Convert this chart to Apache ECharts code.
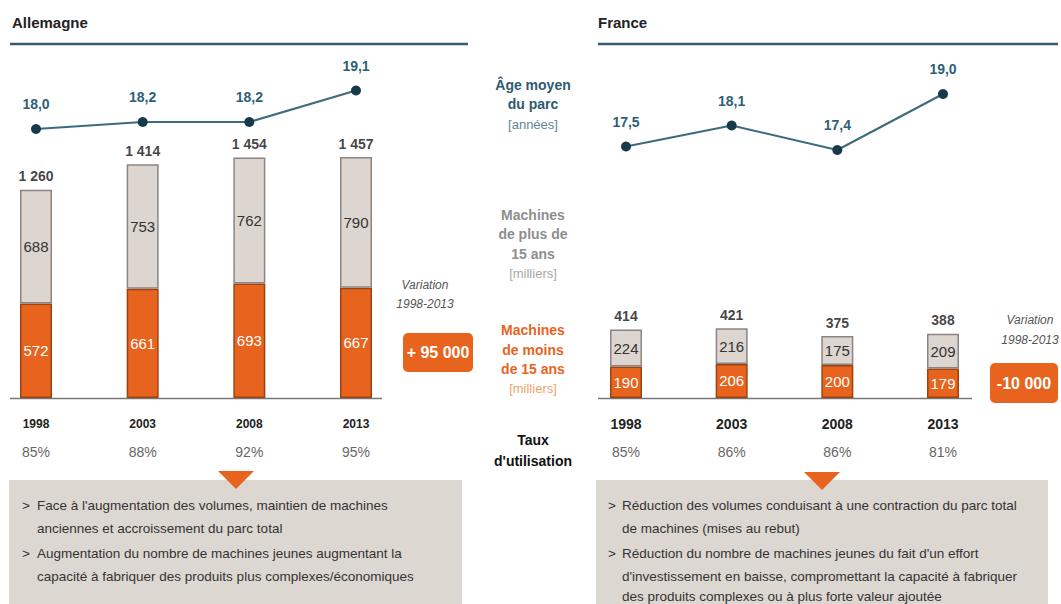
<!DOCTYPE html>
<html>
<head>
<meta charset="utf-8">
<script src="https://cdn.jsdelivr.net/npm/echarts@6/dist/echarts.min.js"></script>
<style>
  html, body { margin: 0; padding: 0; background: #fff; }
  #chart { width: 1061px; height: 604px; }
</style>
</head>
<body>
<div id="chart"></div>
<script>
(function() {
  var years = ['1998', '2003', '2008', '2013'];
  var deAge = [18.0, 18.2, 18.2, 19.1];
  var frAge = [17.5, 18.1, 17.4, 19.0];
  var deOld = [688, 753, 762, 790];
  var deYoung = [572, 661, 693, 667];
  var deTotal = [1260, 1414, 1454, 1457];
  var frOld = [224, 216, 175, 209];
  var frYoung = [190, 206, 200, 179];
  var frTotal = [414, 421, 375, 388];
  var deUtil = [85, 88, 92, 95];
  var frUtil = [85, 86, 86, 81];
  var variations = ['+ 95 000', '-10 000'];

  var font = '"Liberation Sans", Arial, sans-serif';
  var teal = '#2f5e73';
  var orange = '#e8641e';
  var greyFill = '#ddd6d0';
  var boxFill = '#ddd7d2';

  function fmt(v) { return String(v).replace(/\B(?=(\d{3})+(?!\d))/g, ' '); }

  var chart = echarts.init(document.getElementById('chart'), null, { renderer: 'svg' });

  var grids = [], xAxes = [], yAxes = [], series = [];

  function addPanel(left, width, age, old, young, total, util, yearSize) {
    var gLine = grids.length;
    grids.push({ left: left, width: width, top: 59, height: 105 });
    grids.push({ left: left, width: width, top: 150, height: 248 });
    xAxes.push({
      type: 'category', gridIndex: gLine, data: years, boundaryGap: false,
      axisLine: { show: false }, axisTick: { show: false }, axisLabel: { show: false }
    });
    xAxes.push({
      type: 'category', gridIndex: gLine + 1, data: years, boundaryGap: false,
      axisLine: { show: false }, axisTick: { show: false },
      axisLabel: {
        margin: 12,
        formatter: function(v, i) { return '{y|' + v + '}\n{p|' + util[i] + '%}'; },
        rich: {
          y: { fontFamily: font, fontSize: yearSize, fontWeight: 'bold', color: '#222', lineHeight: 28 },
          p: { fontFamily: font, fontSize: 14, color: '#666', lineHeight: 28 }
        }
      }
    });
    yAxes.push({ type: 'value', gridIndex: gLine, min: 17, max: 20, show: false });
    yAxes.push({ type: 'value', gridIndex: gLine + 1, min: 0, max: 1500, show: false });

    series.push({
      type: 'line', xAxisIndex: gLine, yAxisIndex: gLine, data: age,
      lineStyle: { color: '#3d6b7d', width: 2 },
      symbol: 'circle', symbolSize: 10,
      itemStyle: { color: '#17394c' },
      label: {
        show: true, position: 'top', distance: 13,
        fontFamily: font, fontSize: 14, fontWeight: 'bold', color: '#2e5f78',
        formatter: function(p) { return p.value.toFixed(1).replace('.', ','); }
      }
    });
    series.push({
      type: 'bar', xAxisIndex: gLine + 1, yAxisIndex: gLine + 1, stack: 'm' + gLine,
      data: young, barWidth: 32,
      itemStyle: { color: orange, borderColor: '#9c4312', borderWidth: 1.5 },
      label: { show: true, position: 'inside', color: '#fff', fontFamily: font, fontSize: 15 }
    });
    series.push({
      type: 'bar', xAxisIndex: gLine + 1, yAxisIndex: gLine + 1, stack: 'm' + gLine,
      data: old, barWidth: 32,
      itemStyle: { color: greyFill, borderColor: '#8a8582', borderWidth: 1.5 },
      label: { show: true, position: 'inside', color: '#333', fontFamily: font, fontSize: 15 }
    });
    series.push({
      type: 'scatter', xAxisIndex: gLine + 1, yAxisIndex: gLine + 1,
      data: total, symbolSize: 1, itemStyle: { color: 'rgba(0,0,0,0)' },
      label: {
        show: true, position: 'top', distance: 6, color: '#111',
        fontFamily: font, fontSize: 14, fontWeight: 'bold',
        formatter: function(p) { return fmt(p.value); }
      }
    });
  }

  addPanel(36, 320, deAge, deOld, deYoung, deTotal, deUtil, 12);
  addPanel(626, 317, frAge, frOld, frYoung, frTotal, frUtil, 14);

  function txt(t, x, y, size, color, weight, align, style) {
    return {
      type: 'text', silent: true,
      style: {
        text: t, x: x, y: y, fill: color,
        font: (style || 'normal') + ' ' + (weight || 'normal') + ' ' + size + 'px ' + font,
        textAlign: align || 'left', verticalAlign: 'middle'
      }
    };
  }

  var g = [];
  // headers
  g.push(txt('Allemagne', 12, 22, 15, '#222', 'bold'));
  g.push(txt('France', 598, 22, 15, '#222', 'bold'));
  g.push({ type: 'line', shape: { x1: 10, y1: 44, x2: 468, y2: 44 }, style: { stroke: teal, lineWidth: 2.5 } });
  g.push({ type: 'line', shape: { x1: 598, y1: 44, x2: 1058, y2: 44 }, style: { stroke: teal, lineWidth: 2.5 } });
  // baselines
  g.push({ type: 'line', shape: { x1: 10, y1: 398.5, x2: 382, y2: 398.5 }, style: { stroke: '#777', lineWidth: 1.5 } });
  g.push({ type: 'line', shape: { x1: 598, y1: 398.5, x2: 972, y2: 398.5 }, style: { stroke: '#777', lineWidth: 1.5 } });

  // middle legend column
  var cx = 533;
  g.push(txt('Âge moyen', cx, 85, 14, '#2e5a70', 'bold', 'center'));
  g.push(txt('du parc', cx, 104, 14, '#2e5a70', 'bold', 'center'));
  g.push(txt('[années]', cx, 124, 13, '#5f8597', 'normal', 'center'));
  g.push(txt('Machines', cx, 215, 14, '#8e8e8e', 'bold', 'center'));
  g.push(txt('de plus de', cx, 234, 14, '#8e8e8e', 'bold', 'center'));
  g.push(txt('15 ans', cx, 254, 14, '#8e8e8e', 'bold', 'center'));
  g.push(txt('[milliers]', cx, 273, 13, '#a8a8a8', 'normal', 'center'));
  g.push(txt('Machines', cx, 330, 14, orange, 'bold', 'center'));
  g.push(txt('de moins', cx, 350, 14, orange, 'bold', 'center'));
  g.push(txt('de 15 ans', cx, 369, 14, orange, 'bold', 'center'));
  g.push(txt('[milliers]', cx, 388, 13, '#f0a070', 'normal', 'center'));
  g.push(txt('Taux', cx, 440, 14, '#111', 'bold', 'center'));
  g.push(txt("d'utilisation", cx, 461, 14, '#111', 'bold', 'center'));

  // variation badges
  g.push(txt('Variation', 425, 285, 12, '#555', 'normal', 'center', 'italic'));
  g.push(txt('1998-2013', 425, 304, 12, '#555', 'normal', 'center', 'italic'));
  g.push({ type: 'rect', shape: { x: 403, y: 333, width: 70, height: 39, r: 5 }, style: { fill: orange } });
  g.push(txt(variations[0], 438, 352.5, 16, '#fff', 'bold', 'center'));
  g.push(txt('Variation', 1030, 320, 12, '#555', 'normal', 'center', 'italic'));
  g.push(txt('1998-2013', 1030, 340, 12, '#555', 'normal', 'center', 'italic'));
  g.push({ type: 'rect', shape: { x: 990, y: 363, width: 68, height: 40, r: 5 }, style: { fill: orange } });
  g.push(txt(variations[1], 1024, 383, 16, '#fff', 'bold', 'center'));

  // comment boxes
  g.push({ type: 'rect', shape: { x: 9, y: 480, width: 453, height: 130 }, style: { fill: boxFill } });
  g.push({ type: 'rect', shape: { x: 596, y: 480, width: 452, height: 130 }, style: { fill: boxFill } });
  g.push({ type: 'polygon', shape: { points: [[218, 471], [254, 471], [236, 489]] }, style: { fill: orange } });
  g.push({ type: 'polygon', shape: { points: [[804, 472], [840, 472], [822, 490]] }, style: { fill: orange } });

  var deLines = [
    ['>', 'Face à l\'augmentation des volumes, maintien de machines'],
    ['', 'anciennes et accroissement du parc total'],
    ['>', 'Augmentation du nombre de machines jeunes augmentant la'],
    ['', 'capacité à fabriquer des produits plus complexes/économiques']
  ];
  var frLines = [
    ['>', 'Réduction des volumes conduisant à une contraction du parc total'],
    ['', 'de machines (mises au rebut)'],
    ['>', 'Réduction du nombre de machines jeunes du fait d\'un effort'],
    ['', 'd\'investissement en baisse, compromettant la capacité à fabriquer'],
    ['', 'des produits complexes ou à plus forte valeur ajoutée']
  ];
  var lineY = [505, 528, 553, 576, 596];
  deLines.forEach(function(l, i) {
    if (l[0]) g.push(txt(l[0], 22, lineY[i], 13.5, '#333'));
    g.push(txt(l[1], 37, lineY[i], 13.5, '#333'));
  });
  frLines.forEach(function(l, i) {
    if (l[0]) g.push(txt(l[0], 608, lineY[i], 13.5, '#333'));
    g.push(txt(l[1], 622, lineY[i], 13.5, '#333'));
  });

  chart.setOption({
    animation: false,
    grid: grids,
    xAxis: xAxes,
    yAxis: yAxes,
    series: series,
    graphic: g
  });
  window.addEventListener('resize', function() { chart.resize(); });
})();
</script>
</body>
</html>
